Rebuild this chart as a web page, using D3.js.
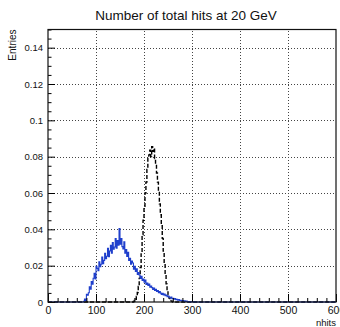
<!DOCTYPE html>
<html><head><meta charset="utf-8">
<script src="https://cdn.jsdelivr.net/npm/d3@7"></script>
<style>
html,body{margin:0;padding:0;background:#fff;}
svg text{font-family:"Liberation Sans",Arial,Helvetica,sans-serif;fill:#111;}
</style></head>
<body><svg id="c" width="340" height="327"></svg>
<script>
// ---- data ----
const title = "Number of total hits at 20 GeV";
const xTitle = "nhits";
const yTitle = "Entries";
const xTicks = [0,100,200,300,400,500,600];
const yTicks = [0,0.02,0.04,0.06,0.08,0.1,0.12,0.14];
const yTickLabels = ["0","0.02","0.04","0.06","0.08","0.1","0.12","0.14"];
const binWidth = 2;
// blue histogram: bins start at 70
const blueStart = 70;
const blueValues = [0,0,0.0004,0.0016,0.0009,0.0042,0.0037,0.0051,0.0083,0.0071,
0.0112,0.0098,0.0131,0.0158,0.0127,0.0196,0.0185,0.0172,0.0221,0.0195,
0.0208,0.0247,0.0211,0.0229,0.0268,0.0238,0.0252,0.0296,0.0249,0.0281,
0.0312,0.0268,0.0327,0.0291,0.0303,0.0349,0.0296,0.0338,0.0312,0.0405,
0.0318,0.0349,0.0305,0.0292,0.0331,0.0268,0.0289,0.0251,0.0274,0.0229,
0.0241,0.0208,0.0226,0.0215,0.0181,0.0197,0.0168,0.0183,0.0151,0.0162,
0.0147,0.0129,0.0141,0.0118,0.0126,0.0109,0.0121,0.0097,0.0104,0.0091,
0.0099,0.0081,0.0088,0.0079,0.0069,0.0077,0.0064,0.0070,0.0058,0.0063,
0.0051,0.0057,0.0049,0.0042,0.0048,0.0039,0.0044,0.0034,0.0038,0.0029,
0.0033,0.0026,0.0022,0.0027,0.0018,0.0021,0.0016,0.0019,0.0012,0.0015,
0.0010,0.0013,0.0008,0.0010,0.0006,0.0008,0.0004,0.0006,0.0003,0.0005,
0.0001,0.0003,0,0.0002,0,0.0001,0,0.0001,0,0];
// black histogram: bins start at 176
const blackStart = 176;
const blackValues = [0,0.0003,0.0008,0.0015,0.0030,0.0052,0.0085,0.0130,0.0190,0.0265,
0.0370,0.0450,0.0520,0.0600,0.0660,0.0730,0.0790,0.0810,0.0835,0.0800,
0.0855,0.0830,0.0845,0.0790,0.0760,0.0710,0.0660,0.0610,0.0540,0.0480,
0.0420,0.0350,0.0280,0.0210,0.0150,0.0100,0.0065,0.0040,0.0022,0.0012,
0.0006,0.0003,0,0];
const xDomain = [0,600];
const yDomain = [0,0.15];

// ---- layout ----
const L=48, R=336, T=29.5, B=302;
const svg = d3.select("#c");
const x = d3.scaleLinear().domain(xDomain).range([L,R]);
const y = d3.scaleLinear().domain(yDomain).range([B,T]);

// grid
const grid = svg.append("g").attr("stroke","#444").attr("stroke-width",1).attr("stroke-dasharray","1,2");
xTicks.filter(v=>v>xDomain[0]&&v<xDomain[1]).forEach(v=>{
  grid.append("line").attr("x1",Math.round(x(v))+0.5).attr("x2",Math.round(x(v))+0.5).attr("y1",B).attr("y2",T);
});
yTicks.filter(v=>v>0).forEach(v=>{
  grid.append("line").attr("x1",L).attr("x2",R).attr("y1",Math.round(y(v))+0.5).attr("y2",Math.round(y(v))+0.5);
});

// histogram path builder
function histPath(start, vals){
  const pts=[[xDomain[0],0],[start,0]];
  vals.forEach((v,i)=>{
    const a=start+i*binWidth, b=a+binWidth;
    pts.push([a,v]); pts.push([b,v]);
  });
  pts.push([start+vals.length*binWidth,0]);
  pts.push([xDomain[1],0]);
  return d3.line().x(d=>x(d[0])).y(d=>y(d[1]))(pts);
}
svg.append("path").attr("d",histPath(blackStart,blackValues))
  .attr("fill","none").attr("stroke","#000").attr("stroke-width",1.4).attr("stroke-dasharray","4,2");
svg.append("path").attr("d",histPath(blueStart,blueValues))
  .attr("fill","none").attr("stroke","#1f3fcc").attr("stroke-width",1.1);

// axes (ROOT style, inward ticks)
const yAxis = d3.axisLeft(y).tickValues(yTicks).tickFormat((d,i)=>yTickLabels[i]).tickSize(-7).tickPadding(5);
const gy = svg.append("g").attr("transform",`translate(${L},0)`).call(yAxis);
gy.select(".domain").remove();
gy.selectAll("text").attr("font-size","9.5px").style("font-family","Liberation Sans, Arial, sans-serif");
const yMinor = d3.range(0,0.1501,0.005).filter(v=>!yTicks.some(t=>Math.abs(t-v)<1e-9));
const gym = svg.append("g").attr("transform",`translate(${L},0)`).call(d3.axisLeft(y).tickValues(yMinor).tickSize(-3.5).tickFormat(""));
gym.select(".domain").remove();

const xAxis = d3.axisBottom(x).tickValues(xTicks).tickFormat(d3.format("d")).tickSize(-8).tickPadding(5);
const gx = svg.append("g").attr("transform",`translate(0,${B})`).call(xAxis);
gx.select(".domain").remove();
gx.selectAll("text").attr("font-size","10.5px").style("font-family","Liberation Sans, Arial, sans-serif");
const xMinor = d3.range(0,601,20).filter(v=>!xTicks.includes(v));
const gxm = svg.append("g").attr("transform",`translate(0,${B})`).call(d3.axisBottom(x).tickValues(xMinor).tickSize(-4).tickFormat(""));
gxm.select(".domain").remove();

// frame
svg.append("rect").attr("x",L).attr("y",T).attr("width",R-L).attr("height",B-T)
  .attr("fill","none").attr("stroke","#111").attr("stroke-width",1.2);

// titles
svg.append("text").attr("x",186).attr("y",20).attr("text-anchor","middle").attr("font-size","13.5px").text(title);
svg.append("text").attr("x",R).attr("y",326).attr("text-anchor","end").attr("font-size","9.5px").text(xTitle);
svg.append("text").attr("transform",`translate(16,${T}) rotate(-90)`).attr("text-anchor","end").attr("font-size","10px").text(yTitle);
</script></body></html>
